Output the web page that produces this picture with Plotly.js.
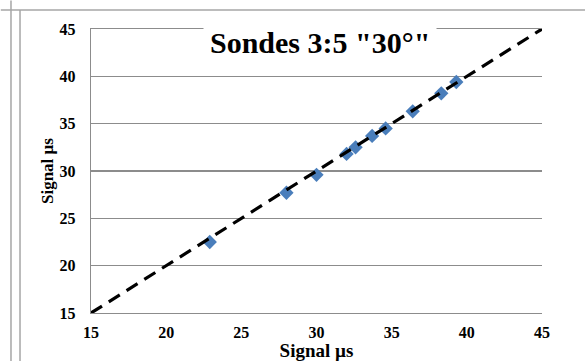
<!DOCTYPE html>
<html><head><meta charset="utf-8">
<script src="https://cdn.plot.ly/plotly-3.0.1.min.js"></script>
<style>html,body{margin:0;padding:0;background:#fff;}#c{width:585px;height:361px;}</style>
</head><body><div id="c"></div>
<script>
const signalX = [22.9, 28.0, 30.0, 32.0, 32.6, 33.7, 34.6, 36.4, 38.3, 39.3];
const signalY = [22.5, 27.7, 29.6, 31.8, 32.5, 33.7, 34.5, 36.3, 38.2, 39.4];
const refLineX = [15, 45];
const refLineY = [15, 45];
const tickVals = [15, 20, 25, 30, 35, 40, 45];
const titleText = 'Sondes 3:5 "30°"';
const axisTitle = 'Signal µs';

const fontFam = 'Liberation Serif, Times New Roman, serif';
const traces = [
  {x: signalX, y: signalY, type: 'scatter', mode: 'markers',
   marker: {symbol: 'diamond', size: 11, color: '#4a7ebb'}, name: 'Sondes', hoverinfo: 'x+y'},
  {x: refLineX, y: refLineY, type: 'scatter', mode: 'lines',
   line: {color: '#000', width: 3.2, dash: '13px,8px'}, name: 'y = x'}
];
const layout = {
  width: 585, height: 361,
  margin: {l: 91, r: 43, t: 29, b: 48},
  paper_bgcolor: '#fff', plot_bgcolor: '#fff',
  showlegend: false,
  font: {family: fontFam, color: '#000'},
  xaxis: {range: [15, 45], tickvals: tickVals, showgrid: false, zeroline: false,
    showline: true, mirror: true, linecolor: '#8c8c8c', linewidth: 1.3,
    ticks: 'outside', ticklen: 4, tickcolor: 'rgba(0,0,0,0)',
    tickfont: {family: fontFam, size: 16, weight: 'bold'},
    title: {text: '<b>' + axisTitle + '</b>', font: {family: fontFam, size: 19}, standoff: 2}},
  yaxis: {range: [15, 45], tickvals: tickVals, showgrid: true, gridcolor: '#8c8c8c', gridwidth: 1.3,
    zeroline: false, showline: true, linecolor: '#8c8c8c', linewidth: 1.3, mirror: false,
    ticks: 'outside', ticklen: 11, tickcolor: 'rgba(0,0,0,0)',
    tickfont: {family: fontFam, size: 16, weight: 'bold'},
    title: {text: '<b>' + axisTitle + '</b>', font: {family: fontFam, size: 17}, standoff: 1}},
  shapes: [
    {type: 'line', xref: 'paper', yref: 'paper', x0: -0.1574, x1: -0.1574, y0: 1.0669, y1: -0.2, line: {color: '#a6a6a6', width: 1.5}},
    {type: 'line', xref: 'paper', yref: 'paper', x0: -0.1574, x1: 1.1, y0: 1.0669, y1: 1.0669, line: {color: '#a6a6a6', width: 1.5}},
    {type: 'line', xref: 'paper', yref: 'paper', x0: -0.1774, x1: -0.1774, y0: 1.1, y1: -0.2, line: {color: '#a6a6a6', width: 1.5}},
    {type: 'line', xref: 'paper', yref: 'paper', x0: -0.1574, x1: -0.2, y0: 1.0669, y1: 1.0669, line: {color: '#a6a6a6', width: 1.5}}
  ],
  annotations: [
    {text: '<b>' + titleText + '</b>', xref: 'paper', yref: 'paper', x: 0.508, y: 0.952,
     xanchor: 'center', yanchor: 'middle', showarrow: false, bgcolor: '#fff', borderpad: 6,
     font: {family: fontFam, size: 30, color: '#000'}}
  ]
};
Plotly.newPlot('c', traces, layout, {displayModeBar: false, staticPlot: true});
</script></body></html>
